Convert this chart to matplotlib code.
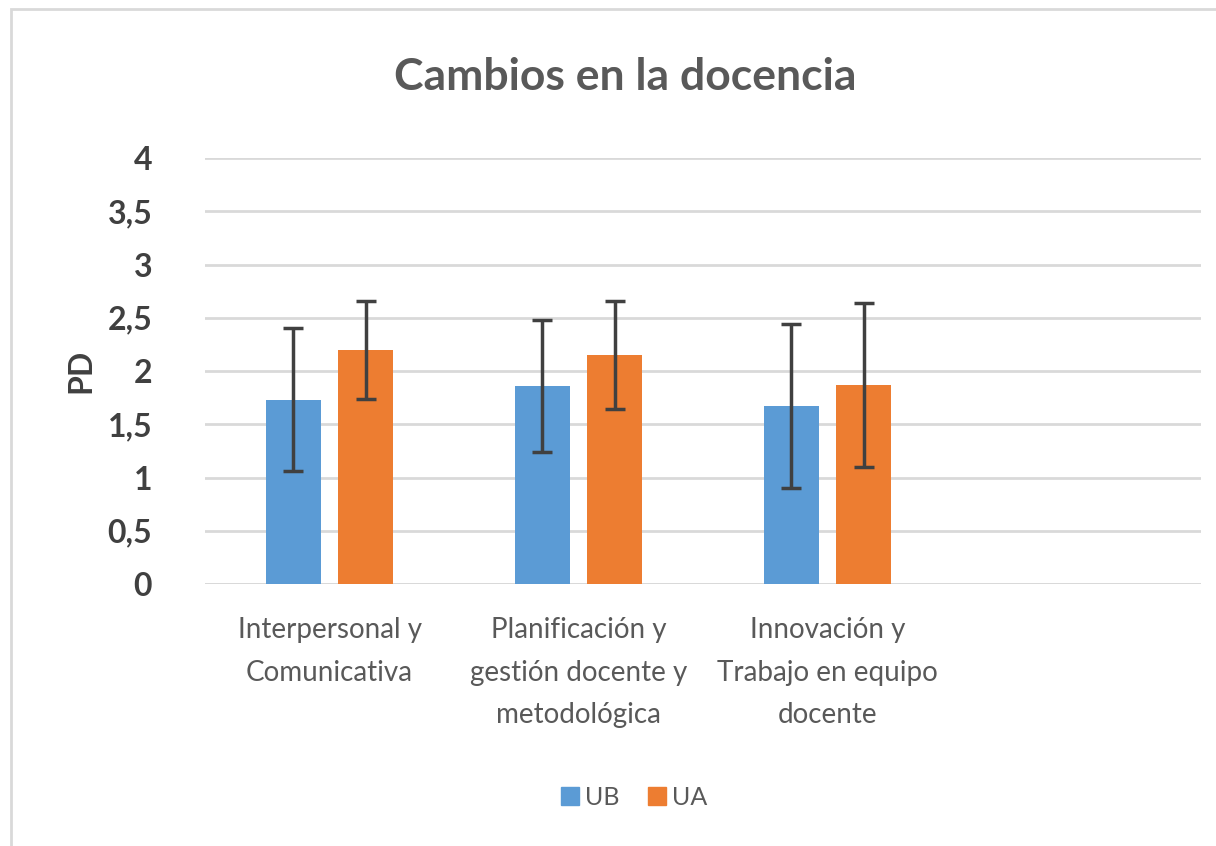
import numpy as np
import matplotlib
matplotlib.use("Agg")
import matplotlib.pyplot as plt
from matplotlib.patches import Rectangle
from matplotlib.lines import Line2D

plt.rcParams["font.family"] = ["Lato", "DejaVu Sans"]

# data
categories = ["Interpersonal y\nComunicativa",
              "Planificación y\ngestión docente y\nmetodológica",
              "Innovación y\nTrabajo en equipo\ndocente",
              ""]
ub_mean = [1.73, 1.86, 1.67, np.nan]
ub_sd = [0.67, 0.62, 0.77, np.nan]
ua_mean = [2.20, 2.15, 1.87, np.nan]
ua_sd = [0.46, 0.51, 0.77, np.nan]
yticks = [0, 0.5, 1, 1.5, 2, 2.5, 3, 3.5, 4]
ytick_labels = ["0", "0,5", "1", "1,5", "2", "2,5", "3", "3,5", "4"]

blue = "#5B9BD5"
orange = "#ED7D31"
grey_text = "#595959"
grid_col = "#D9D9D9"

fig = plt.figure(figsize=(12.16, 8.46), dpi=100)
ax = fig.add_axes([205 / 1216, 1 - 584 / 846, (1201 - 205) / 1216, (584 - 158) / 846])

x = np.arange(len(categories))
w = 0.22
off = 0.145
err_kw = dict(ecolor="#404040", elinewidth=2.5, capsize=7, capthick=2.5)
ax.bar(x - off, ub_mean, w, yerr=ub_sd, color=blue, error_kw=err_kw, zorder=3)
ax.bar(x + off, ua_mean, w, yerr=ua_sd, color=orange, error_kw=err_kw, zorder=3)

ax.set_xlim(-0.5, 3.5)
ax.set_ylim(0, 4)
ax.set_yticks(yticks)
ax.set_yticklabels(ytick_labels, fontsize=23, fontweight="bold", color="#404040")
ax.set_xticks(x)
ax.set_xticklabels(categories, fontsize=20, color=grey_text, linespacing=1.78, va="top")
ax.tick_params(axis="both", length=0)
ax.tick_params(axis="y", pad=38)
ax.tick_params(axis="x", pad=24)
ax.yaxis.grid(True, color=grid_col, linewidth=2, zorder=0)
for s in ax.spines.values():
    s.set_visible(False)
ax.axhline(0, color=grid_col, linewidth=2, zorder=1)

ax.set_ylabel("PD", fontsize=23, fontweight="bold", color="#404040")
ax.yaxis.set_label_coords(-0.11, 0.5)

fig.text(625 / 1216, 1 - 77 / 846, "Cambios en la docencia", ha="center", va="center",
         fontsize=32, fontweight="bold", color=grey_text)

handles = [Line2D([], [], marker="s", linestyle="none", markersize=13, color=blue),
           Line2D([], [], marker="s", linestyle="none", markersize=13, color=orange)]
leg = fig.legend(handles, ["UB", "UA"], loc="center", bbox_to_anchor=(632 / 1216, 1 - 797 / 846),
                 ncol=2, frameon=False, fontsize=18, handletextpad=0.1, columnspacing=1.0,
                 handlelength=1.0)
for t in leg.get_texts():
    t.set_color(grey_text)

# outer chart border
fig.patches.append(Rectangle((11 / 1216, -0.1), 2, 1.1 - 9 / 846, transform=fig.transFigure,
                             fill=False, edgecolor=grid_col, linewidth=2))

fig.savefig("out.png", dpi=100)
